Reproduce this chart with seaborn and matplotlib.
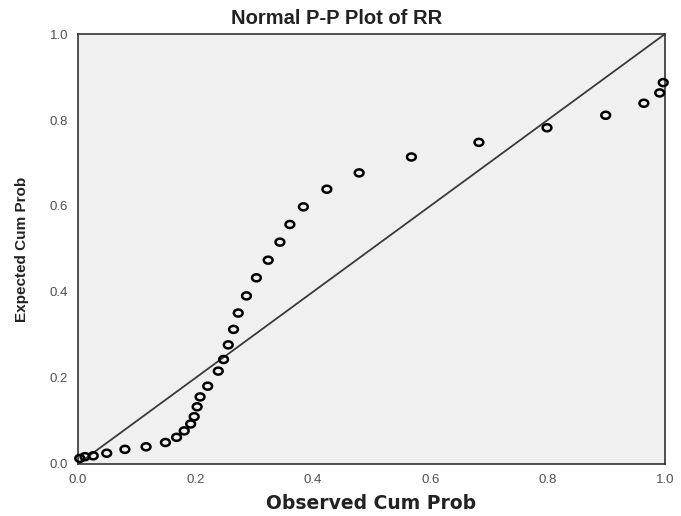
import numpy as np
import pandas as pd
import matplotlib
matplotlib.use("Agg")
import matplotlib.pyplot as plt
from matplotlib.path import Path
import seaborn as sb

# values
observed = [0.003, 0.012, 0.026, 0.049, 0.080, 0.116, 0.149, 0.168, 0.181, 0.192,
            0.198, 0.203, 0.208, 0.221, 0.239, 0.248, 0.256, 0.265, 0.273, 0.287,
            0.304, 0.324, 0.344, 0.361, 0.384, 0.424, 0.479, 0.568, 0.683, 0.799,
            0.899, 0.964, 0.991, 0.997]
expected = [0.013, 0.017, 0.019, 0.025, 0.034, 0.040, 0.050, 0.062, 0.077, 0.093,
            0.110, 0.133, 0.156, 0.181, 0.216, 0.243, 0.277, 0.313, 0.351, 0.391,
            0.433, 0.474, 0.516, 0.557, 0.598, 0.639, 0.677, 0.714, 0.748, 0.782,
            0.811, 0.839, 0.863, 0.887]
ref_line = [0.0, 1.0]
ticks = [0.0, 0.2, 0.4, 0.6, 0.8, 1.0]
tick_labels = ["0.0", "0.2", "0.4", "0.6", "0.8", "1.0"]


def ellipse_marker():
    # SPSS draws its markers as slightly flattened circles
    t = np.linspace(0, 2 * np.pi, 40)
    verts = np.column_stack([np.cos(t), 0.8 * np.sin(t)])
    return Path(verts, closed=True)


def main():
    sb.set_style("white")
    plt.rcParams["font.family"] = ["Liberation Sans", "DejaVu Sans"]
    data = pd.DataFrame({"Observed": observed, "Expected": expected})
    line = pd.DataFrame({"x": ref_line, "y": ref_line})

    fig = plt.figure(figsize=(6.81, 5.16), dpi=100)
    ax = fig.add_axes([0.1145, 0.1008, 0.862, 0.8333])
    ax.set_facecolor("#f0f0f0")

    sb.lineplot(data=line, x="x", y="y", color="#3a3a3a", linewidth=1.3, ax=ax)
    sb.scatterplot(data=data, x="Observed", y="Expected", marker=ellipse_marker(), s=40,
                   facecolor="none", edgecolor="black", linewidth=1.8, ax=ax,
                   clip_on=False, zorder=3)

    ax.set_xlim(0, 1)
    ax.set_ylim(0, 1)
    ax.set_xticks(ticks)
    ax.set_xticklabels(tick_labels)
    ax.set_yticks(ticks)
    ax.set_yticklabels(tick_labels)
    ax.tick_params(axis="both", direction="out", length=5, width=1, color="#333333",
                   labelsize=9.5, labelcolor="#505050", pad=2)
    for side in ["top", "right", "bottom", "left"]:
        ax.spines[side].set_visible(True)
        ax.spines[side].set_color("#333333")
        ax.spines[side].set_linewidth(1.2)

    ax.set_xlabel("Observed Cum Prob", fontsize=13.5, fontweight="bold", labelpad=6,
                  family=["DejaVu Sans"], color="#222222")
    ax.set_ylabel("Expected Cum Prob", fontsize=11, fontweight="bold", labelpad=15,
                  color="#222222")
    fig.text(0.494, 0.964, "Normal P-P Plot of RR", fontsize=14.5, fontweight="bold",
             ha="center", va="center", color="#222222")

    fig.savefig("out.png", dpi=100)


if __name__ == "__main__":
    main()
